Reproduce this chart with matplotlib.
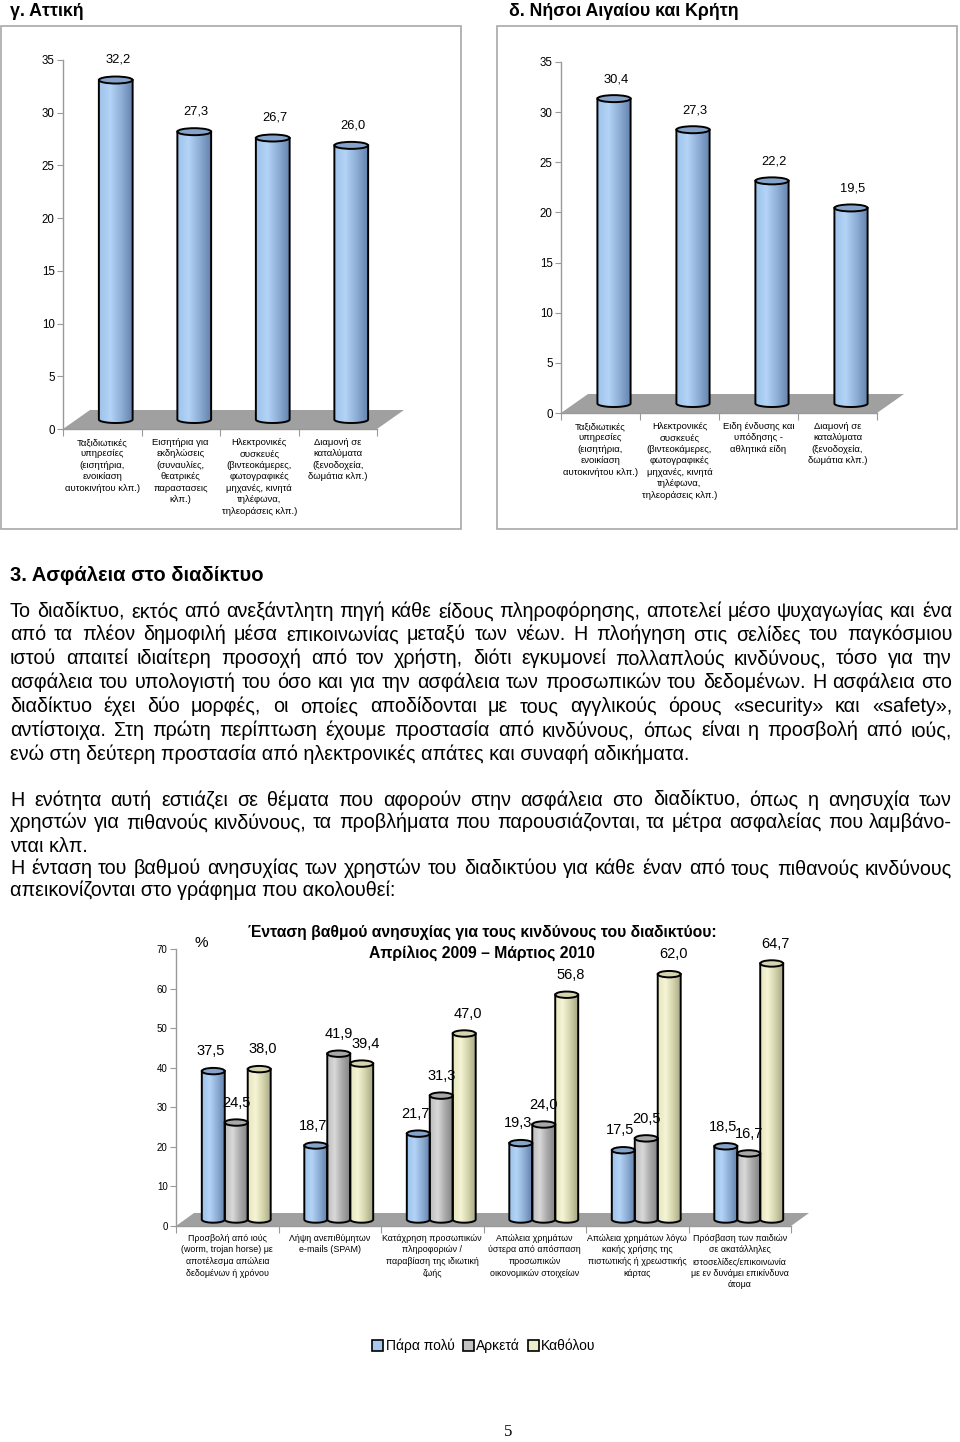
import numpy as np
import matplotlib.pyplot as plt
from matplotlib.patches import Polygon, Ellipse, Rectangle, Patch
from matplotlib.colors import LinearSegmentedColormap
from matplotlib.font_manager import FontProperties

plt.rcParams['font.family'] = ['Liberation Sans', 'DejaVu Sans']

# ---- data ----
attica_cats = ['Ταξιδιωτικές\nυπηρεσίες\n(εισητήρια,\nενοικίαση\nαυτοκινήτου κλπ.)',
               'Εισητήρια για\nεκδηλώσεις\n(συναυλίες,\nθεατρικές\nπαραστασεις\nκλπ.)',
               'Ηλεκτρονικές\nσυσκευές\n(βιντεοκάμερες,\nφωτογραφικές\nμηχανές, κινητά\nτηλέφωνα,\nτηλεοράσεις κλπ.)',
               'Διαμονή σε\nκαταλύματα\n(ξενοδοχεία,\nδωμάτια κλπ.)']
attica_vals = [32.2, 27.3, 26.7, 26.0]

aegean_cats = ['Ταξιδιωτικές\nυπηρεσίες\n(εισητήρια,\nενοικίαση\nαυτοκινήτου κλπ.)',
               'Ηλεκτρονικές\nσυσκευές\n(βιντεοκάμερες,\nφωτογραφικές\nμηχανές, κινητά\nτηλέφωνα,\nτηλεοράσεις κλπ.)',
               'Ειδη ένδυσης και\nυπόδησης -\nαθλητικά είδη',
               'Διαμονή σε\nκαταλύματα\n(ξενοδοχεία,\nδωμάτια κλπ.)']
aegean_vals = [30.4, 27.3, 22.2, 19.5]

risk_cats = ['Προσβολή από ιούς\n(worm, trojan horse) με\nαποτέλεσμα απώλεια\nδεδομένων ή χρόνου',
             'Λήψη ανεπιθύμητων\ne-mails (SPAM)',
             'Κατάχρηση προσωπικών\nπληροφοριών /\nπαραβίαση της ιδιωτική\nζωής',
             'Απώλεια χρημάτων\nύστερα από απόσπαση\nπροσωπικών\nοικονομικών στοιχείων',
             'Απώλεια χρημάτων λόγω\nκακής χρήσης της\nπιστωτικής ή χρεωστικής\nκάρτας',
             'Πρόσβαση των παιδιών\nσε ακατάλληλες\nιστοσελίδες/επικοινωνία\nμε εν δυνάμει επικίνδυνα\nάτομα']
series_names = ['Πάρα πολύ', 'Αρκετά', 'Καθόλου']
very_much = [37.5, 18.7, 21.7, 19.3, 17.5, 18.5]
quite = [24.5, 41.9, 31.3, 24.0, 20.5, 16.7]
not_at_all = [38.0, 39.4, 47.0, 56.8, 62.0, 64.7]

para1 = ['Το διαδίκτυο, εκτός από ανεξάντλητη πηγή κάθε είδους πληροφόρησης, αποτελεί μέσο ψυχαγωγίας και ένα',
         'από τα πλέον δημοφιλή μέσα επικοινωνίας μεταξύ των νέων. Η πλοήγηση στις σελίδες του παγκόσμιου',
         'ιστού απαιτεί ιδιαίτερη προσοχή από τον χρήστη, διότι εγκυμονεί πολλαπλούς κινδύνους, τόσο για την',
         'ασφάλεια του υπολογιστή του όσο και για την ασφάλεια των προσωπικών του δεδομένων. Η ασφάλεια στο',
         'διαδίκτυο έχει δύο μορφές, οι οποίες αποδίδονται με τους αγγλικούς όρους «security» και «safety»,',
         'αντίστοιχα. Στη πρώτη περίπτωση έχουμε προστασία από κινδύνους, όπως είναι η προσβολή από ιούς,',
         'ενώ στη δεύτερη προστασία από ηλεκτρονικές απάτες και συναφή αδικήματα.']
para2 = ['Η ενότητα αυτή εστιάζει σε θέματα που αφορούν στην ασφάλεια στο διαδίκτυο, όπως η ανησυχία των',
         'χρηστών για πιθανούς κινδύνους, τα προβλήματα που παρουσιάζονται, τα μέτρα ασφαλείας που λαμβάνο-',
         'νται κλπ.']
para3 = ['Η ένταση του βαθμού ανησυχίας των χρηστών του διαδικτύου για κάθε έναν από τους πιθανούς κινδύνους',
         'απεικονίζονται στο γράφημα που ακολουθεί:']

# ---- page setup ----
W, H = 960, 1442
fig = plt.figure(figsize=(W / 100, H / 100), dpi=100)


def fx(x):
    return x / W


def fy(y):
    return 1 - y / H


def add_ax(left, top, right, bottom):
    return fig.add_axes([fx(left), fy(bottom), (right - left) / W, (bottom - top) / H])


blue = (LinearSegmentedColormap.from_list('b', ['#9dc2ea', '#b3d4f6', '#8eaed6', '#6483ad']), '#86a4ca')
gray = (LinearSegmentedColormap.from_list('g', ['#bdbdbd', '#d9d9d9', '#a9a9a9', '#858585']), '#a8a8a8')
yellow = (LinearSegmentedColormap.from_list('y', ['#e6e6bd', '#f5f5d6', '#d3d3ab', '#a7a785']), '#d4d4b0')


def cylinder(ax, xc, w, y0, y1, eh, style):
    cmap, top = style
    t = np.linspace(np.pi, 2 * np.pi, 40)
    verts = [(xc - w / 2, y1)] + list(zip(xc + w / 2 * np.cos(t), y0 + eh * np.sin(t))) + [(xc + w / 2, y1)]
    body = Polygon(verts, closed=True, facecolor='none', edgecolor='black', lw=1.4, zorder=3)
    ax.add_patch(body)
    img = ax.imshow(np.linspace(0, 1, 64).reshape(1, -1), cmap=cmap, aspect='auto',
                    extent=(xc - w / 2, xc + w / 2, y0 - eh, y1), zorder=2.5, interpolation='bilinear')
    img.set_clip_path(body)
    ax.add_patch(Ellipse((xc, y1), w, 2 * eh, facecolor=top, edgecolor='black', lw=1.4, zorder=4))


def setup_axes(ax, cats, ymax, ystep, tick_fs, cat_fs, cat_ls, cat_pad):
    n = len(cats)
    for s in ['top', 'right']:
        ax.spines[s].set_visible(False)
    for s in ['left', 'bottom']:
        ax.spines[s].set_color('#9a9a9a')
        ax.spines[s].set_linewidth(1)
    ax.patch.set_alpha(0)
    ax.set_yticks(np.arange(0, ymax + 1, ystep))
    ax.tick_params(axis='y', length=4, color='#9a9a9a', labelsize=tick_fs, pad=2)
    ax.set_xticks(np.arange(n + 1))
    ax.set_xticklabels([])
    ax.tick_params(axis='x', which='major', length=5, color='#9a9a9a')
    ax.set_xticks(np.arange(n) + 0.5, minor=True)
    ax.set_xticklabels(cats, minor=True, fontsize=cat_fs, linespacing=cat_ls)
    ax.tick_params(axis='x', which='minor', length=0, pad=cat_pad)


def depth_chart(ax, cats, series, styles, ymax, ystep, depth_px, bar_frac, eh_px,
                label_off, label_fs, label_dx, tick_fs, cat_fs, cat_ls, cat_pad):
    n = len(cats)
    bb = ax.get_position()
    wpx, hpx = bb.width * W, bb.height * H
    ddx = depth_px[0] / (wpx / n)
    ddy = depth_px[1] / (hpx / ymax)
    eh = eh_px / (hpx / ymax)
    ax.add_patch(Polygon([(0, 0), (n, 0), (n + ddx, ddy), (ddx, ddy)], closed=True,
                         facecolor='#a0a0a0', edgecolor='none', zorder=1, clip_on=False))
    k = len(series)
    for j, (vals, st) in enumerate(zip(series, styles)):
        for i, v in enumerate(vals):
            xc = i + 0.5 + ddx / 2 + (j - (k - 1) / 2) * bar_frac
            cylinder(ax, xc, bar_frac, ddy / 2, v + ddy / 2, eh, st)
            ax.text(xc + label_dx[j] / (wpx / n), v + ddy / 2 + label_off, f'{v:.1f}'.replace('.', ','),
                    ha='center', va='center', fontsize=label_fs, zorder=5)
    ax.set_xlim(0, n)
    ax.set_ylim(0, ymax)
    setup_axes(ax, cats, ymax, ystep, tick_fs, cat_fs, cat_ls, cat_pad)


# ---- top charts ----
fig.text(fx(10), fy(11), 'γ. Αττική', fontsize=12.8, fontweight='bold', va='center')
fig.text(fx(509), fy(11), 'δ. Νήσοι Αιγαίου και Κρήτη', fontsize=12.8, fontweight='bold', va='center')
for x0, x1 in [(1, 461), (497, 957)]:
    fig.add_artist(Rectangle((fx(x0), fy(529)), (x1 - x0) / W, 503 / H, transform=fig.transFigure,
                             fill=False, edgecolor='#a8a8a8', lw=1.2))

ax1 = add_ax(63, 60, 377, 429)
depth_chart(ax1, attica_cats, [attica_vals], [blue], 35, 5, (27, 19), 0.43, 3.5,
            1.9, 9.3, [2], 8.3, 6.8, 1.35, 6.5)
ax2 = add_ax(561, 62, 877, 413)
depth_chart(ax2, aegean_cats, [aegean_vals], [blue], 35, 5, (27, 19), 0.42, 3.5,
            1.9, 9.3, [2], 8.3, 6.8, 1.35, 6.5)

# ---- text ----
renderer = fig.canvas.get_renderer()
body_font = FontProperties(family='Liberation Sans', size=12)
w12 = renderer.get_text_width_height_descent(para1[-1], body_font, ismath=False)[0]
body_font = FontProperties(family='Liberation Sans', size=round(12 * 678 / w12, 1))

fig.text(fx(10), fy(573), '3. Ασφάλεια στο διαδίκτυο', fontsize=14.5, fontweight='bold', va='center_baseline')


def paragraph(lines, ys, x0=10, x1=952, base=5.5):
    for k, (line, y) in enumerate(zip(lines, ys)):
        words = line.split()
        if k == len(lines) - 1 or len(words) < 2:
            fig.text(fx(x0), fy(y + base), line, fontproperties=body_font, va='baseline')
            continue
        widths = [renderer.get_text_width_height_descent(wd, body_font, ismath=False)[0] for wd in words]
        gap = (x1 - x0 - sum(widths)) / (len(words) - 1)
        x = x0
        for wd, ww in zip(words, widths):
            fig.text(fx(round(x)), fy(y + base), wd, fontproperties=body_font, va='baseline')
            x += ww + gap


paragraph(para1, [612, 635, 659, 683, 707, 731, 755])
paragraph(para2, [800, 823, 847])
paragraph(para3, [869, 891])

# ---- bottom chart ----
fig.text(fx(482), fy(932), 'Ένταση βαθμού ανησυχίας για τους κινδύνους του διαδικτύου:',
         fontsize=11.3, fontweight='bold', ha='center', va='center')
fig.text(fx(482), fy(953), 'Απρίλιος 2009 – Μάρτιος 2010',
         fontsize=11.3, fontweight='bold', ha='center', va='center')
fig.text(fx(201), fy(943), '%', fontsize=11, ha='center', va='center')

ax3 = add_ax(176, 949, 791, 1226)
depth_chart(ax3, risk_cats, [very_much, quite, not_at_all], [blue, gray, yellow], 70, 10, (18, 13),
            0.224, 3.2, 5.0, 10.5, [-3, 0, 4], 7, 6.4, 1.38, 5.5)

handles = [Patch(facecolor=c, edgecolor='black', lw=1.2) for c in ['#a6c8ee', '#c2c2c2', '#eeeec8']]
fig.legend(handles, series_names, loc='center', bbox_to_anchor=(fx(484), fy(1346)), ncol=3,
           frameon=False, fontsize=10, handlelength=0.8, handleheight=0.8, handletextpad=0.15,
           columnspacing=0.6, borderpad=0)

fig.text(fx(508), fy(1432), '5', family='Liberation Serif', fontsize=12, ha='center', va='center')

fig.savefig('out.png', dpi=100)
